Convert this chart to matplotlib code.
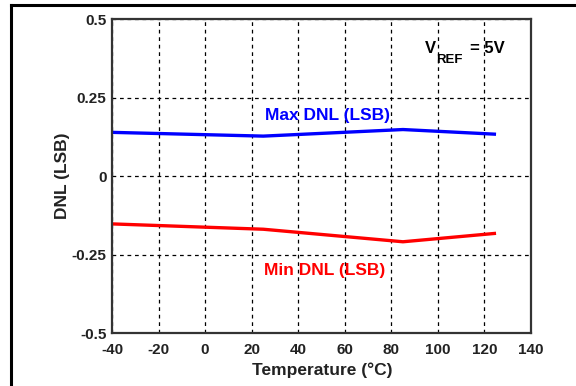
import matplotlib
matplotlib.use("Agg")
import matplotlib.pyplot as plt
from matplotlib.lines import Line2D

# data
temps = [-40, 25, 85, 125]
max_dnl = [0.140, 0.128, 0.149, 0.134]
min_dnl = [-0.152, -0.169, -0.209, -0.182]
xticks = [-40, -20, 0, 20, 40, 60, 80, 100, 120, 140]
yticks = [-0.5, -0.25, 0, 0.25, 0.5]
ytick_labels = ["-0.5", "-0.25", "0", "0.25", "0.5"]

plt.rcParams["font.family"] = "Liberation Sans"
plt.rcParams["font.weight"] = "bold"
plt.rcParams["axes.unicode_minus"] = False

fig = plt.figure(figsize=(5.76, 3.86), dpi=100)
ax = fig.add_axes([0.1944, 0.1373, 0.7274, 0.8122])

# lines
ax.plot(temps, max_dnl, color="#0000ff", lw=2.4, solid_capstyle="butt")
ax.plot(temps, min_dnl, color="#ff0000", lw=2.4, solid_capstyle="butt")

ax.set_xlim(-40, 140)
ax.set_ylim(-0.5, 0.5)
ax.set_xticks(xticks)
ax.set_yticks(yticks)
ax.set_yticklabels(ytick_labels)
ax.tick_params(length=0, labelsize=11, colors="#222222")
ax.tick_params(axis="x", pad=7)
ax.tick_params(axis="y", pad=4)
for lbl in ax.get_xticklabels() + ax.get_yticklabels():
    lbl.set_fontweight("bold")

ax.grid(True, color="black", linestyle=(0, (3, 3)), lw=0.9)
ax.set_axisbelow(True)
for s in ax.spines.values():
    s.set_color("#333333")
    s.set_linewidth(1.6)

ax.set_xlabel("Temperature (°C)", fontsize=12.5, fontweight="bold", color="#222222")
ax.set_ylabel("DNL (LSB)", fontsize=12.5, fontweight="bold", color="#222222")
ax.xaxis.set_label_coords(0.501, -0.094)
ax.yaxis.set_label_coords(-0.100, 0.5)

# annotations
ax.text(52.4, 0.195, "Max DNL (LSB)", color="#0000ff", fontsize=12.5, fontweight="bold",
        ha="center", va="center")
ax.text(51.5, -0.30, "Min DNL (LSB)", color="#ff0000", fontsize=12.5, fontweight="bold",
        ha="center", va="center")
ax.text(96.8, 0.408, "V", color="black", fontsize=12, fontweight="bold",
        ha="center", va="center")
ax.text(99.4, 0.372, "REF", color="black", fontsize=9.5, fontweight="bold",
        ha="left", va="center")
ax.text(113.6, 0.408, "= 5V", color="black", fontsize=12, fontweight="bold",
        ha="left", va="center")

# partial frame around the figure (left and top edges)
fig.add_artist(Line2D([11 / 576, 11 / 576], [0, 1 - 5 / 386], color="black", lw=2.2,
                      transform=fig.transFigure))
fig.add_artist(Line2D([11 / 576, 1], [1 - 5 / 386, 1 - 5 / 386], color="black", lw=2.2,
                      transform=fig.transFigure))

fig.savefig("out.png", dpi=100)
